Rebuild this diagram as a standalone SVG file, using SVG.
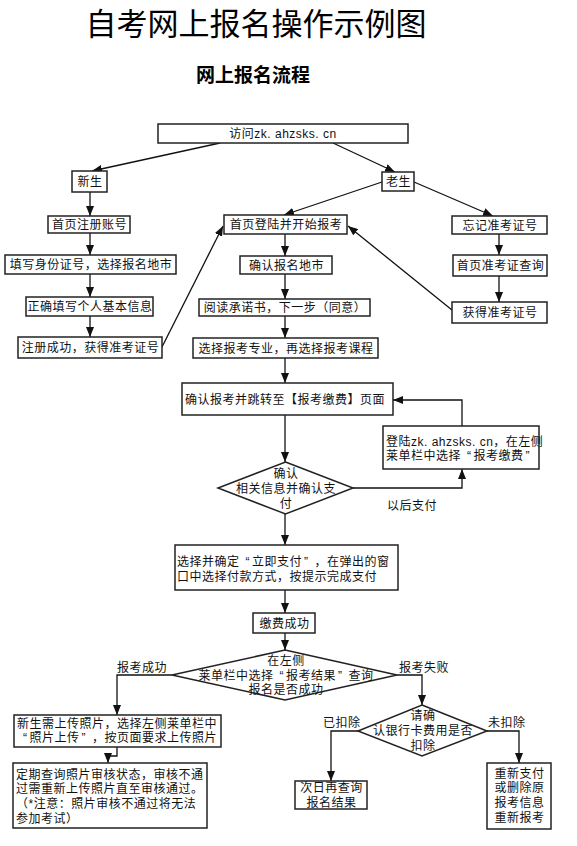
<svg xmlns="http://www.w3.org/2000/svg" width="577" height="846" viewBox="0 0 577 846">
<defs>
<marker id="ah" markerUnits="userSpaceOnUse" markerWidth="10" markerHeight="8" refX="10" refY="4" orient="auto">
<path d="M0,0 L10,4 L0,8 z" fill="#111"/>
</marker>
<style>
.bx{fill:#fff;stroke:#222;stroke-width:1.5}
.t{font-family:"Liberation Sans","Noto Sans CJK SC",sans-serif;font-size:12px;fill:#111;letter-spacing:0.5px}
.c{text-anchor:middle}
.ln{fill:none;stroke:#111;stroke-width:1.3;marker-end:url(#ah)}
</style>
</defs>
<rect width="577" height="846" fill="#fff"/>
<text x="256" y="34.5" text-anchor="middle" font-family="Noto Sans CJK SC, sans-serif" font-size="31" fill="#000">自考网上报名操作示例图</text>
<text x="253" y="82" text-anchor="middle" font-family="Noto Sans CJK SC, sans-serif" font-size="19" font-weight="bold" fill="#000">网上报名流程</text>

<g id="connectors">
<line class="ln" x1="220" y1="143" x2="92" y2="171"/>
<line class="ln" x1="333" y1="143" x2="395" y2="172"/>
<line class="ln" x1="90" y1="192" x2="90" y2="216"/>
<line class="ln" x1="90" y1="233" x2="90" y2="255"/>
<line class="ln" x1="90" y1="274" x2="90" y2="297"/>
<line class="ln" x1="90" y1="316" x2="90" y2="337"/>
<line class="ln" x1="162" y1="347" x2="223" y2="226"/>
<line class="ln" x1="382" y1="182" x2="284" y2="215"/>
<line class="ln" x1="414" y1="182" x2="493" y2="216"/>
<line class="ln" x1="499" y1="234" x2="499" y2="255"/>
<line class="ln" x1="499" y1="276" x2="499" y2="302"/>
<line class="ln" x1="452" y1="310" x2="348" y2="226"/>
<line class="ln" x1="285" y1="234" x2="285" y2="256"/>
<line class="ln" x1="285" y1="274" x2="285" y2="299"/>
<line class="ln" x1="285" y1="316" x2="285" y2="338"/>
<line class="ln" x1="285" y1="358" x2="285" y2="383"/>
<line class="ln" x1="285" y1="415" x2="285" y2="462"/>
<polyline class="ln" points="353,488 462,488 462,469"/>
<polyline class="ln" points="462,426 462,400 393,400"/>
<line class="ln" x1="285" y1="514" x2="285" y2="545"/>
<line class="ln" x1="285" y1="590" x2="285" y2="613"/>
<line class="ln" x1="285" y1="633" x2="285" y2="650"/>
<polyline class="ln" points="172,675 117,675 117,715"/>
<polyline class="ln" points="397,675 422,675 422,705"/>
<polyline class="ln" points="117,747 117,756 108,756 108,763"/>
<polyline class="ln" points="358,731 331,731 331,781"/>
<polyline class="ln" points="487,731 519,731 519,763"/>
<text class="t" x="387" y="509.5">以后支付</text>
<text class="t" x="117" y="671.5">报考成功</text>
<text class="t" x="399" y="671.5">报考失败</text>
<text class="t" x="323" y="726.5">已扣除</text>
<text class="t" x="488" y="726.5">未扣除</text>
</g>

<g id="n1"><rect class="bx" x="158" y="124" width="250" height="19"/><text class="t c" x="283" y="138">访问zk. ahzsks. cn</text></g>
<g id="n2"><rect class="bx" x="72" y="171" width="35" height="21"/><text class="t c" x="90" y="186">新生</text></g>
<g id="n3"><rect class="bx" x="382" y="172" width="32" height="19"/><text class="t c" x="398.5" y="186">老生</text></g>
<g id="n4"><rect class="bx" x="48" y="216" width="82" height="17"/><text class="t c" x="89.5" y="229">首页注册账号</text></g>
<g id="n5"><rect class="bx" x="5" y="255" width="171" height="19"/><text class="t c" x="91" y="269">填写身份证号，选择报名地市</text></g>
<g id="n6"><rect class="bx" x="26" y="297" width="127" height="19"/><text class="t c" x="90" y="311">正确填写个人基本信息</text></g>
<g id="n7"><rect class="bx" x="18" y="337" width="144" height="21"/><text class="t c" x="90.5" y="352">注册成功，获得准考证号</text></g>
<g id="n8"><rect class="bx" x="224" y="215" width="123" height="19"/><text class="t c" x="286" y="229">首页登陆并开始报考</text></g>
<g id="n9"><rect class="bx" x="452" y="216" width="95" height="18"/><text class="t c" x="500" y="229.5">忘记准考证号</text></g>
<g id="n10"><rect class="bx" x="453" y="255" width="94" height="21"/><text class="t c" x="500.5" y="270">首页准考证查询</text></g>
<g id="n11"><rect class="bx" x="452" y="302" width="95" height="21"/><text class="t c" x="500" y="317">获得准考证号</text></g>
<g id="n12"><rect class="bx" x="240" y="256" width="92" height="18"/><text class="t c" x="286.5" y="269.5">确认报名地市</text></g>
<g id="n13"><rect class="bx" x="199" y="299" width="171" height="17"/><text class="t c" x="285" y="312">阅读承诺书，下一步（同意）</text></g>
<g id="n14"><rect class="bx" x="193" y="338" width="185" height="20"/><text class="t c" x="286" y="352.5">选择报考专业，再选择报考课程</text></g>
<g id="n15"><rect class="bx" x="182" y="383" width="211" height="32"/><text class="t" x="185" y="403.5">确认报考并跳转至【报考缴费】页面</text></g>
<g id="n16"><polygon class="bx" points="285.5,462 353,488 285.5,514 218,488"/>
<text class="t c" x="286" y="477.5">确认<tspan x="286" dy="15">相关信息并确认支</tspan><tspan x="286" dy="15">付</tspan></text></g>
<g id="n17"><rect class="bx" x="383" y="426" width="156" height="43"/>
<text class="t" x="386" y="446">登陆zk. ahzsks. cn，在左侧<tspan x="386" dy="13.5">莱单栏中选择</tspan><tspan dx="6">“</tspan><tspan dx="2">报考缴费</tspan><tspan dx="2">”</tspan></text></g>
<g id="n18"><rect class="bx" x="175" y="545" width="223" height="45"/>
<text class="t" x="177" y="565.5">选择并确定<tspan dx="6">“</tspan><tspan dx="2">立即支付</tspan><tspan dx="2">”</tspan><tspan dx="6">，在弹出的窗</tspan><tspan x="177" dy="15">口中选择付款方式，按提示完成支付</tspan></text></g>
<g id="n19"><rect class="bx" x="253" y="613" width="62" height="20"/><text class="t c" x="284.5" y="627.5">缴费成功</text></g>
<g id="n20"><polygon class="bx" points="285,650 397,675 285,700 172,675"/>
<text class="t c" x="286" y="664.5">在左侧<tspan x="286" dy="15">莱单栏中选择</tspan><tspan dx="6">“</tspan><tspan dx="2">报考结果</tspan><tspan dx="2">”</tspan><tspan dx="6">查询</tspan><tspan x="286" dy="14.5">报名是否成功</tspan></text></g>
<g id="n21"><rect class="bx" x="14" y="715" width="207" height="32"/>
<text class="t" x="17" y="727.5">新生需上传照片，选择左侧莱单栏中<tspan x="23" dy="14">“</tspan><tspan dx="2">照片上传</tspan><tspan dx="2">”</tspan><tspan dx="6">，按页面要求上传照片</tspan></text></g>
<g id="n22"><rect class="bx" x="13" y="763" width="194" height="65"/>
<text class="t" x="16" y="778.5">定期查询照片审核状态，审核不通<tspan x="16" dy="14.5">过需重新上传照片直至审核通过。</tspan><tspan x="16" dy="14.5">（*注意：照片审核不通过将无法</tspan><tspan x="16" dy="15">参加考试）</tspan></text></g>
<g id="n23"><polygon class="bx" points="422,705 487,731 422,756 358,731"/>
<text class="t c" x="423" y="719.5">请确<tspan x="423" dy="15">认银行卡费用是否</tspan><tspan x="423" dy="15">扣除</tspan></text></g>
<g id="n24"><rect class="bx" x="295" y="781" width="72" height="28"/>
<text class="t c" x="331.5" y="791.5">次日再查询<tspan x="331.5" dy="15">报名结果</tspan></text></g>
<g id="n25"><rect class="bx" x="487" y="763" width="64" height="66"/>
<text class="t c" x="519.5" y="777.5">重新支付<tspan x="519.5" dy="14.5">或删除原</tspan><tspan x="519.5" dy="14.5">报考信息</tspan><tspan x="519.5" dy="15">重新报考</tspan></text></g>
</svg>
